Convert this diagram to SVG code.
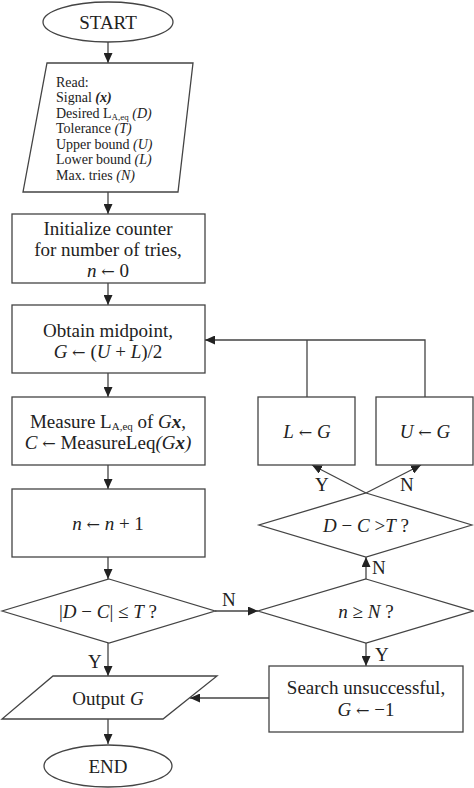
<svg xmlns="http://www.w3.org/2000/svg" width="474" height="788" viewBox="0 0 474 788">
<defs>
<marker id="arr" markerUnits="userSpaceOnUse" markerWidth="10" markerHeight="9" refX="10" refY="4.5" orient="auto">
<path d="M0,0 L10,4.5 L0,9 z" fill="#222"/>
</marker>
<style>
.s{fill:#fff;stroke:#444;stroke-width:1.3}
.c{fill:none;stroke:#444;stroke-width:1.3}
.a{fill:none;stroke:#444;stroke-width:1.3;marker-end:url(#arr)}
text{font-family:"Liberation Serif","Times New Roman",serif;fill:#222}
.t{font-size:19px;text-anchor:middle}
.r{font-size:14px}
.l{font-size:19px}
.i{font-style:italic}
.b{font-weight:bold}
.ar{font-family:"DejaVu Serif",serif;font-size:0.85em}
</style>
</defs>
<rect width="474" height="788" fill="#fff"/>
<g id="connectors">
<line class="a" x1="108" y1="42" x2="108" y2="63"/>
<line class="a" x1="108" y1="192" x2="108" y2="214"/>
<line class="a" x1="108" y1="283" x2="108" y2="305"/>
<line class="a" x1="108" y1="373" x2="108" y2="397"/>
<line class="a" x1="108" y1="465" x2="108" y2="489"/>
<line class="a" x1="108" y1="557" x2="108" y2="579"/>
<line class="a" x1="108" y1="643" x2="108" y2="676"/>
<line class="a" x1="108" y1="719" x2="108" y2="744"/>
<line class="a" x1="215" y1="611" x2="258" y2="611"/>
<line class="a" x1="366" y1="643" x2="366" y2="666"/>
<line class="a" x1="269" y1="698" x2="190" y2="698"/>
<line class="a" x1="366" y1="579" x2="366" y2="557"/>
<line class="a" x1="366" y1="493" x2="312" y2="465"/>
<line class="a" x1="366" y1="493" x2="421" y2="465"/>
<polyline class="c" points="307,397 307,340"/>
<polyline class="a" points="425,397 425,340 205,340"/>
<text class="l" x="88" y="668">Y</text>
<text class="l" x="222" y="606">N</text>
<text class="l" x="375" y="661">Y</text>
<text class="l" x="372" y="574">N</text>
<text class="l" x="315" y="491">Y</text>
<text class="l" x="400" y="491">N</text>
</g>
<g id="start">
<ellipse class="s" cx="108" cy="22" rx="65" ry="20"/>
<text class="t" x="108" y="29">START</text>
</g>
<g id="read">
<polygon class="s" points="47,63 193,63 178,192 23,192"/>
<text class="r" x="56" y="87">Read:</text>
<text class="r" x="56" y="102">Signal <tspan class="i b">(x)</tspan></text>
<text class="r" x="56" y="118">Desired L<tspan font-size="9" dy="2">A,eq</tspan><tspan dy="-2"> </tspan><tspan class="i">(D)</tspan></text>
<text class="r" x="56" y="133">Tolerance <tspan class="i">(T)</tspan></text>
<text class="r" x="56" y="149">Upper bound <tspan class="i">(U)</tspan></text>
<text class="r" x="56" y="164">Lower bound <tspan class="i">(L)</tspan></text>
<text class="r" x="56" y="180">Max. tries <tspan class="i">(N)</tspan></text>
</g>
<g id="init">
<rect class="s" x="12" y="214" width="193" height="69"/>
<text class="t" x="108" y="235" font-size="20">Initialize counter</text>
<text class="t" x="108" y="256" font-size="20">for number of tries,</text>
<text class="t" x="108" y="277" font-size="20"><tspan class="i">n</tspan> <tspan class="ar">←</tspan> 0</text>
</g>
<g id="midpoint">
<rect class="s" x="12" y="305" width="193" height="68"/>
<text class="t" x="108" y="337">Obtain midpoint,</text>
<text class="t" x="108" y="358"><tspan class="i">G</tspan> <tspan class="ar">←</tspan> (<tspan class="i">U</tspan> + <tspan class="i">L</tspan>)/2</text>
</g>
<g id="measure">
<rect class="s" x="12" y="397" width="193" height="68"/>
<text class="t" x="108" y="428">Measure L<tspan font-size="11" dy="2">A,eq</tspan><tspan dy="-2"> of </tspan><tspan class="i">G</tspan><tspan class="i b">x</tspan>,</text>
<text class="t" x="108" y="449"><tspan class="i">C</tspan> <tspan class="ar">←</tspan> MeasureLeq<tspan class="i">(G</tspan><tspan class="i b">x</tspan><tspan class="i">)</tspan></text>
</g>
<g id="increment">
<rect class="s" x="12" y="489" width="193" height="68"/>
<text class="t" x="108" y="530"><tspan class="i">n</tspan> <tspan class="ar">←</tspan> <tspan class="i">n</tspan> + 1</text>
</g>
<g id="check-tolerance">
<polygon class="s" points="109,579 215,611 109,643 2,611"/>
<text class="t" x="108" y="618">|<tspan class="i">D</tspan> − <tspan class="i">C</tspan>| ≤ <tspan class="i">T</tspan> ?</text>
</g>
<g id="check-tries">
<polygon class="s" points="366,579 473,611 366,643 258,611"/>
<text class="t" x="366" y="618"><tspan class="i">n</tspan> ≥ <tspan class="i">N</tspan> ?</text>
</g>
<g id="check-sign">
<polygon class="s" points="366,493 472,525 366,557 259,525"/>
<text class="t" x="366" y="532"><tspan class="i">D</tspan> − <tspan class="i">C</tspan> &gt;<tspan class="i">T</tspan> ?</text>
</g>
<g id="set-lower">
<rect class="s" x="258" y="397" width="97" height="68"/>
<text class="t" x="307" y="438"><tspan class="i">L</tspan> <tspan class="ar">←</tspan> <tspan class="i">G</tspan></text>
</g>
<g id="set-upper">
<rect class="s" x="376" y="397" width="97" height="68"/>
<text class="t" x="425" y="438"><tspan class="i">U</tspan> <tspan class="ar">←</tspan> <tspan class="i">G</tspan></text>
</g>
<g id="unsuccessful">
<rect class="s" x="269" y="666" width="194" height="66"/>
<text class="t" x="366" y="694">Search unsuccessful,</text>
<text class="t" x="366" y="716"><tspan class="i">G</tspan> <tspan class="ar">←</tspan> −1</text>
</g>
<g id="output">
<polygon class="s" points="53,676 217,676 163,719 2,719"/>
<text class="t" x="108" y="705">Output <tspan class="i">G</tspan></text>
</g>
<g id="end">
<ellipse class="s" cx="108" cy="766" rx="64" ry="21"/>
<text class="t" x="108" y="773" font-size="20">END</text>
</g>
</svg>
